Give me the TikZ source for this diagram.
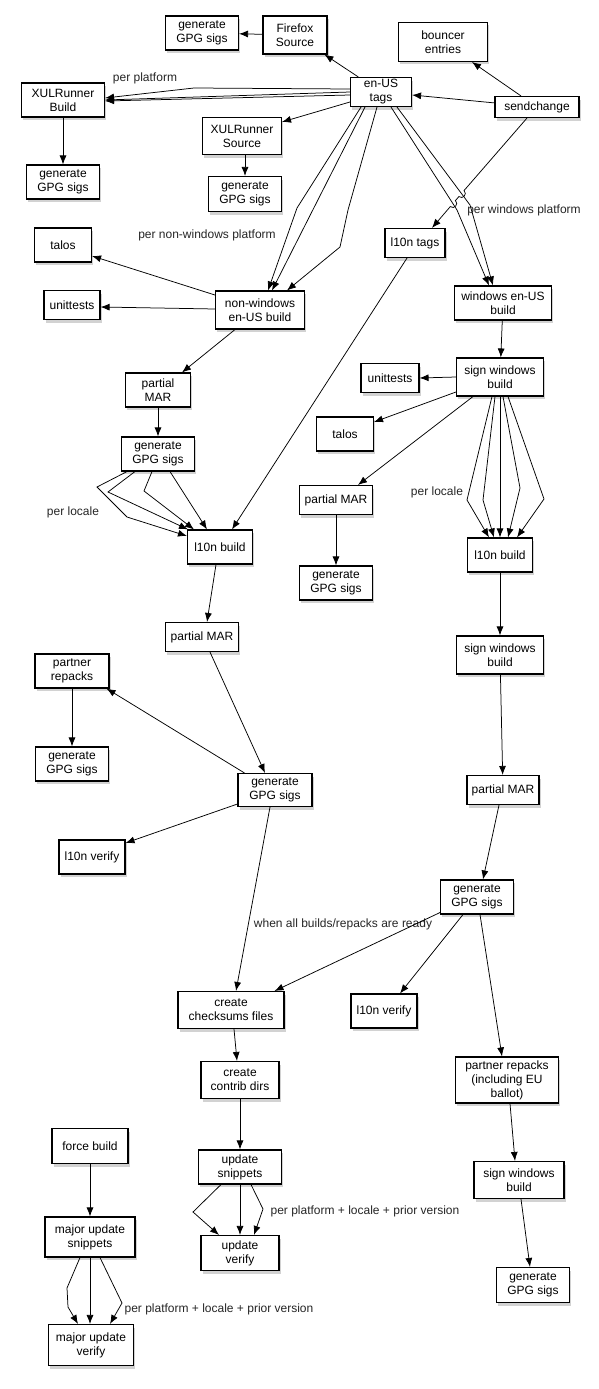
\documentclass[tikz,border=0pt]{standalone}
\usepackage{fontspec}
\setmainfont{Liberation Sans}
\usetikzlibrary{arrows.meta,shadows}
\begin{document}
\begin{tikzpicture}[x=1pt,y=-1pt,
  box/.style={draw=black, line width=1.1pt, fill=white, align=center, inner sep=0pt,
    font=\fontsize{12}{14}\selectfont,
    drop shadow={shadow xshift=1.5pt, shadow yshift=-3pt, opacity=0.35}},
  conn/.style={draw=black, line width=0.75pt, -{Latex[length=9pt,width=7pt]}},
  lbl/.style={font=\fontsize{12}{14}\selectfont, text=black!85, inner sep=0pt}]
\useasboundingbox[fill=white] (0,0) rectangle (598,1389);
% nodes
\node[box, minimum width=73pt, minimum height=34pt] (gA) at (202,33) {generate\\GPG sigs};
\node[box, minimum width=64pt, minimum height=38pt] (ffx) at (295,35) {Firefox\\Source};
\node[box, minimum width=89pt, minimum height=39pt] (bnc) at (443,42) {bouncer\\entries};
\node[box, minimum width=61pt, minimum height=29pt] (ent) at (381,92) {en-US\\tags};
\node[box, minimum width=84pt, minimum height=21pt] (snd) at (537,107) {sendchange};
\node[box, minimum width=83pt, minimum height=34pt] (xb) at (63,100) {XULRunner\\Build};
\node[box, minimum width=79pt, minimum height=37pt] (xs) at (242,136) {XULRunner\\Source};
\node[box, minimum width=73pt, minimum height=34pt] (gxb) at (63,182) {generate\\GPG sigs};
\node[box, minimum width=73pt, minimum height=35pt] (gxs) at (245,194) {generate\\GPG sigs};
\node[box, minimum width=57pt, minimum height=34pt] (tl1) at (63,245) {talos};
\node[box, minimum width=56pt, minimum height=29pt] (ut1) at (72,305) {unittests};
\node[box, minimum width=89pt, minimum height=38pt] (nw) at (260,310) {non-windows\\en-US build};
\node[box, minimum width=65pt, minimum height=34pt] (pm1) at (158,390) {partial\\MAR};
\node[box, minimum width=73pt, minimum height=34pt] (g1) at (158,454) {generate\\GPG sigs};
\node[box, minimum width=65pt, minimum height=34pt] (lb1) at (220,547) {l10n build};
\node[box, minimum width=60pt, minimum height=29pt] (lt) at (415,243) {l10n tags};
\node[box, minimum width=97pt, minimum height=34pt] (web) at (503,303) {windows en-US\\build};
\node[box, minimum width=87pt, minimum height=38pt] (sw1) at (500,377) {sign windows\\build};
\node[box, minimum width=58pt, minimum height=29pt] (ut2) at (390,378) {unittests};
\node[box, minimum width=57pt, minimum height=34pt] (tl2) at (345,434) {talos};
\node[box, minimum width=73pt, minimum height=29pt] (pm2) at (336,500) {partial MAR};
\node[box, minimum width=73pt, minimum height=34pt] (g2) at (336,583) {generate\\GPG sigs};
\node[box, minimum width=65pt, minimum height=34pt] (lb2) at (500,555) {l10n build};
\node[box, minimum width=73pt, minimum height=29pt] (pm3) at (202,637) {partial MAR};
\node[box, minimum width=74pt, minimum height=34pt] (pr1) at (72,671) {partner\\repacks};
\node[box, minimum width=73pt, minimum height=34pt] (g3) at (72,764) {generate\\GPG sigs};
\node[box, minimum width=74pt, minimum height=33pt] (g4) at (275,790) {generate\\GPG sigs};
\node[box, minimum width=66pt, minimum height=34pt] (lv1) at (92,857) {l10n verify};
\node[box, minimum width=87pt, minimum height=38pt] (sw2) at (500,655) {sign windows\\build};
\node[box, minimum width=72pt, minimum height=29pt] (pm4) at (503,790) {partial MAR};
\node[box, minimum width=73pt, minimum height=34pt] (g5) at (477,897) {generate\\GPG sigs};
\node[box, minimum width=106pt, minimum height=37pt] (cs) at (231,1010) {create\\checksums files};
\node[box, minimum width=66pt, minimum height=34pt] (lv2) at (384,1011) {l10n verify};
\node[box, minimum width=78pt, minimum height=37pt] (cc) at (240,1080) {create\\contrib dirs};
\node[box, minimum width=103pt, minimum height=46pt] (pr2) at (507,1080) {partner repacks\\(including EU\\ballot)};
\node[box, minimum width=76pt, minimum height=35pt] (fb) at (90,1146) {force build};
\node[box, minimum width=83pt, minimum height=34pt] (us) at (240,1167) {update\\snippets};
\node[box, minimum width=78pt, minimum height=35pt] (uv) at (240,1253) {update\\verify};
\node[box, minimum width=90pt, minimum height=40pt] (mus) at (90,1237) {major update\\snippets};
\node[box, minimum width=85pt, minimum height=41pt] (muv) at (91,1345) {major update\\verify};
\node[box, minimum width=90pt, minimum height=37pt] (sw3) at (519,1180) {sign windows\\build};
\node[box, minimum width=73pt, minimum height=35pt] (g6) at (533,1285) {generate\\GPG sigs};
% labels
\node[lbl] (l1) at (145,78) {per platform};
\node[lbl] (l2) at (207,235) {per non-windows platform};
\node[lbl] (l3) at (524,210) {per windows platform};
\node[lbl] (l4) at (73,512) {per locale};
\node[lbl] (l5) at (437,492) {per locale};
\node[lbl] (l6) at (343,924) {when all builds/repacks are ready};
\node[lbl] (l7) at (365,1211) {per platform + locale + prior version};
\node[lbl] (l8) at (219,1309) {per platform + locale + prior version};
% connectors
\draw[conn] (ent) -- (ffx);
\draw[conn] (ffx) -- (gA);
\draw[conn] (snd) -- (bnc);
\draw[conn] (snd) -- (ent);
\draw[conn] ([yshift=3pt]ent.west) -- (194,88) -- ([yshift=2pt]xb.east);
\draw[conn] (ent.west) -- (xb.east);
\draw[conn] ([yshift=-3pt]ent.west) -- ([yshift=-1pt]xb.east);
\draw[conn] ([yshift=-10pt]ent.west) -- ([yshift=-5pt]xs.north east);
\draw[conn] (xb) -- (gxb);
\draw[conn] (xs.south -| gxs.north) -- (gxs.north);
\draw[conn] ([xshift=-20pt]ent.south) -- (297,208) -- ([xshift=8pt]nw.north);
\draw[conn] ([xshift=-16pt]ent.south) -- ([xshift=12pt]nw.north);
\draw[conn] ([xshift=-4pt]ent.south) -- (348,210) -- (340,247) -- ([xshift=27pt]nw.north);
\draw[conn] ([xshift=10pt]ent.south) -- (457,210) -- ([xshift=-14pt]web.north);
\draw[conn] ([xshift=16pt]ent.south) -- (470,205) -- ([xshift=-10pt]web.north);
\draw[conn] ([xshift=-10pt]snd.south) -- (464.0,190.6)
  .. controls (467.8,193.85) and (462.7,199.85) .. (458.9,196.6)
  -- (455.4,200.6)
  .. controls (459.2,203.85) and (454.1,209.85) .. (450.3,206.6)
  -- ([xshift=17pt]lt.north);
\draw[conn] ([xshift=-8pt]lt.south) -- ([xshift=12pt]lb1.north);
\draw[conn] ([yshift=15pt]nw.west) -- ([yshift=-11pt]tl1.east);
\draw[conn] ([yshift=1pt]nw.west) -- ([yshift=-2pt]ut1.east);
\draw[conn] ([xshift=-25pt]nw.south) -- ([xshift=24pt]pm1.north);
\draw[conn] (pm1) -- (g1);
\draw[conn] ([xshift=-31pt]g1.south) -- (97,487) -- (127,517) -- ([yshift=11pt]lb1.west);
\draw[conn] ([xshift=-23pt]g1.south) -- (108,492) -- ([xshift=1pt]lb1.north west);
\draw[conn] ([xshift=-6pt]g1.south) -- (144,491) -- ([xshift=-26pt]lb1.north);
\draw[conn] ([xshift=12pt]g1.south) -- ([xshift=-13pt]lb1.north);
\draw[conn] ([xshift=-4pt]lb1.south) -- ([xshift=5pt]pm3.north);
\draw[conn] ([xshift=8pt]pm3.south) -- ([xshift=-10pt]g4.north);
\draw[conn] ([xshift=7pt]g4.north west) -- ([xshift=-3pt]pr1.south east);
\draw[conn] (pr1) -- (g3);
\draw[conn] ([yshift=-14pt]g4.west) -- ([yshift=14pt]lv1.east);
\draw[conn] ([xshift=-5pt]g4.south) -- ([xshift=5pt]cs.north);
\draw[conn] (web) -- (sw1);
\draw[conn] (sw1.west) -- (ut2.east);
\draw[conn] ([yshift=-15pt]sw1.west) -- ([yshift=12pt]tl2.east);
\draw[conn] ([xshift=-27pt]sw1.south) -- ([xshift=22pt]pm2.north);
\draw[conn] ([xshift=-8pt]sw1.south) -- (467,500) -- ([xshift=-11pt]lb2.north);
\draw[conn] ([xshift=-5pt]sw1.south) -- (483,500) -- ([xshift=-6pt]lb2.north);
\draw[conn] (sw1.south) -- (lb2.north);
\draw[conn] ([xshift=3pt]sw1.south) -- (520,488) -- ([xshift=8pt]lb2.north);
\draw[conn] ([xshift=8pt]sw1.south) -- (544,499) -- ([xshift=17pt]lb2.north);
\draw[conn] (pm2) -- (g2);
\draw[conn] (lb2) -- (sw2);
\draw[conn] (sw2) -- (pm4);
\draw[conn] ([xshift=-4pt]pm4.south) -- ([xshift=6pt]g5.north);
\draw[conn] ([yshift=2pt]g5.south west) -- ([xshift=-10pt]cs.north east);
\draw[conn] ([xshift=-14pt]g5.south) -- ([xshift=16pt]lv2.north);
\draw[conn] ([xshift=3pt]g5.south) -- ([xshift=-5pt]pr2.north);
\draw[conn] ([xshift=3pt]pr2.south) -- ([xshift=-4pt]sw3.north);
\draw[conn] ([xshift=2pt]sw3.south) -- ([xshift=-3pt]g6.north);
\draw[conn] ([xshift=3pt]cs.south) -- ([xshift=-3pt]cc.north);
\draw[conn] (cc) -- (us);
\draw[conn] ([xshift=-19pt]us.south) -- (193,1212) -- ([xshift=-21pt]uv.north);
\draw[conn] (us) -- (uv);
\draw[conn] ([xshift=11pt]us.south) -- (263,1209) -- ([xshift=14pt]uv.north);
\draw[conn] (fb) -- (mus);
\draw[conn] ([xshift=-10pt]mus.south) -- (67,1288) -- (68,1307) -- ([xshift=-13pt]muv.north);
\draw[conn] (mus.south) -- (mus.south |- muv.north);
\draw[conn] ([xshift=10pt]mus.south) -- (122,1303) -- ([xshift=19pt]muv.north);
\end{tikzpicture}
\end{document}
